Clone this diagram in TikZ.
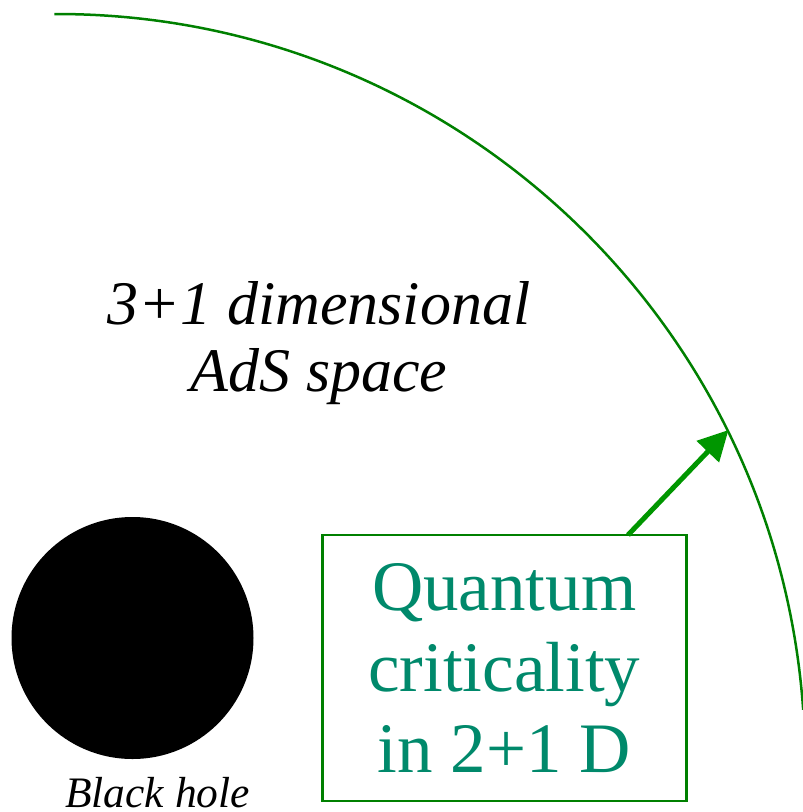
\documentclass[tikz,border=0pt]{standalone}
\usepackage{fontspec}
\setmainfont{Liberation Serif}[
  UprightFont=*,
  ItalicFont=* Italic,
  BoldFont=* Bold]
\newfontfamily\timesfont{Liberation Serif}
\usetikzlibrary{arrows.meta}
\definecolor{arcgreen}{RGB}{0,128,0}
\definecolor{arrowgreen}{RGB}{0,150,0}
\definecolor{qteal}{RGB}{0,137,107}
\begin{document}
\begin{tikzpicture}[x=1pt,y=-1pt,
  boundary/.style={draw=arcgreen, line width=2.5pt},
  hole/.style={circle, fill=black, minimum size=242pt, inner sep=0pt, outer sep=0pt},
  holelabel/.style={inner sep=0pt, font=\timesfont\fontsize{43.5}{48}\selectfont\itshape},
  spacelabel/.style={inner sep=0pt, align=center, font=\timesfont\fontsize{62}{67}\selectfont\itshape},
  qbox/.style={draw=arcgreen, line width=2.7pt, minimum width=364pt, minimum height=266pt,
    inner sep=0pt, outer sep=0pt, align=center, text=qteal, font=\timesfont\fontsize{71}{81}\selectfont},
  pointer/.style={draw=arrowgreen, line width=5pt, -{Triangle[length=30pt,width=30pt]}, fill=arrowgreen}
]
\useasboundingbox (0,0) rectangle (803,812);
\draw[boundary] (57,762) ++(-90.2:748) arc[start angle=-90.2, end angle=-4, radius=748];
\node[spacelabel] (ads) at (319,343) {3+1 dimensional\\AdS space};
\node[hole] (bh) at (132.5,638) {};
\node[holelabel, anchor=base] (bhl) at (157.5,807) {Black hole};
\node[qbox] (qc) at (504.3,668) {Quantum\\criticality\\in 2+1 D};
\coordinate (tip) at (728.5,430);
\draw[pointer] ([xshift=123.7pt]qc.north) -- (tip);
\end{tikzpicture}
\end{document}
